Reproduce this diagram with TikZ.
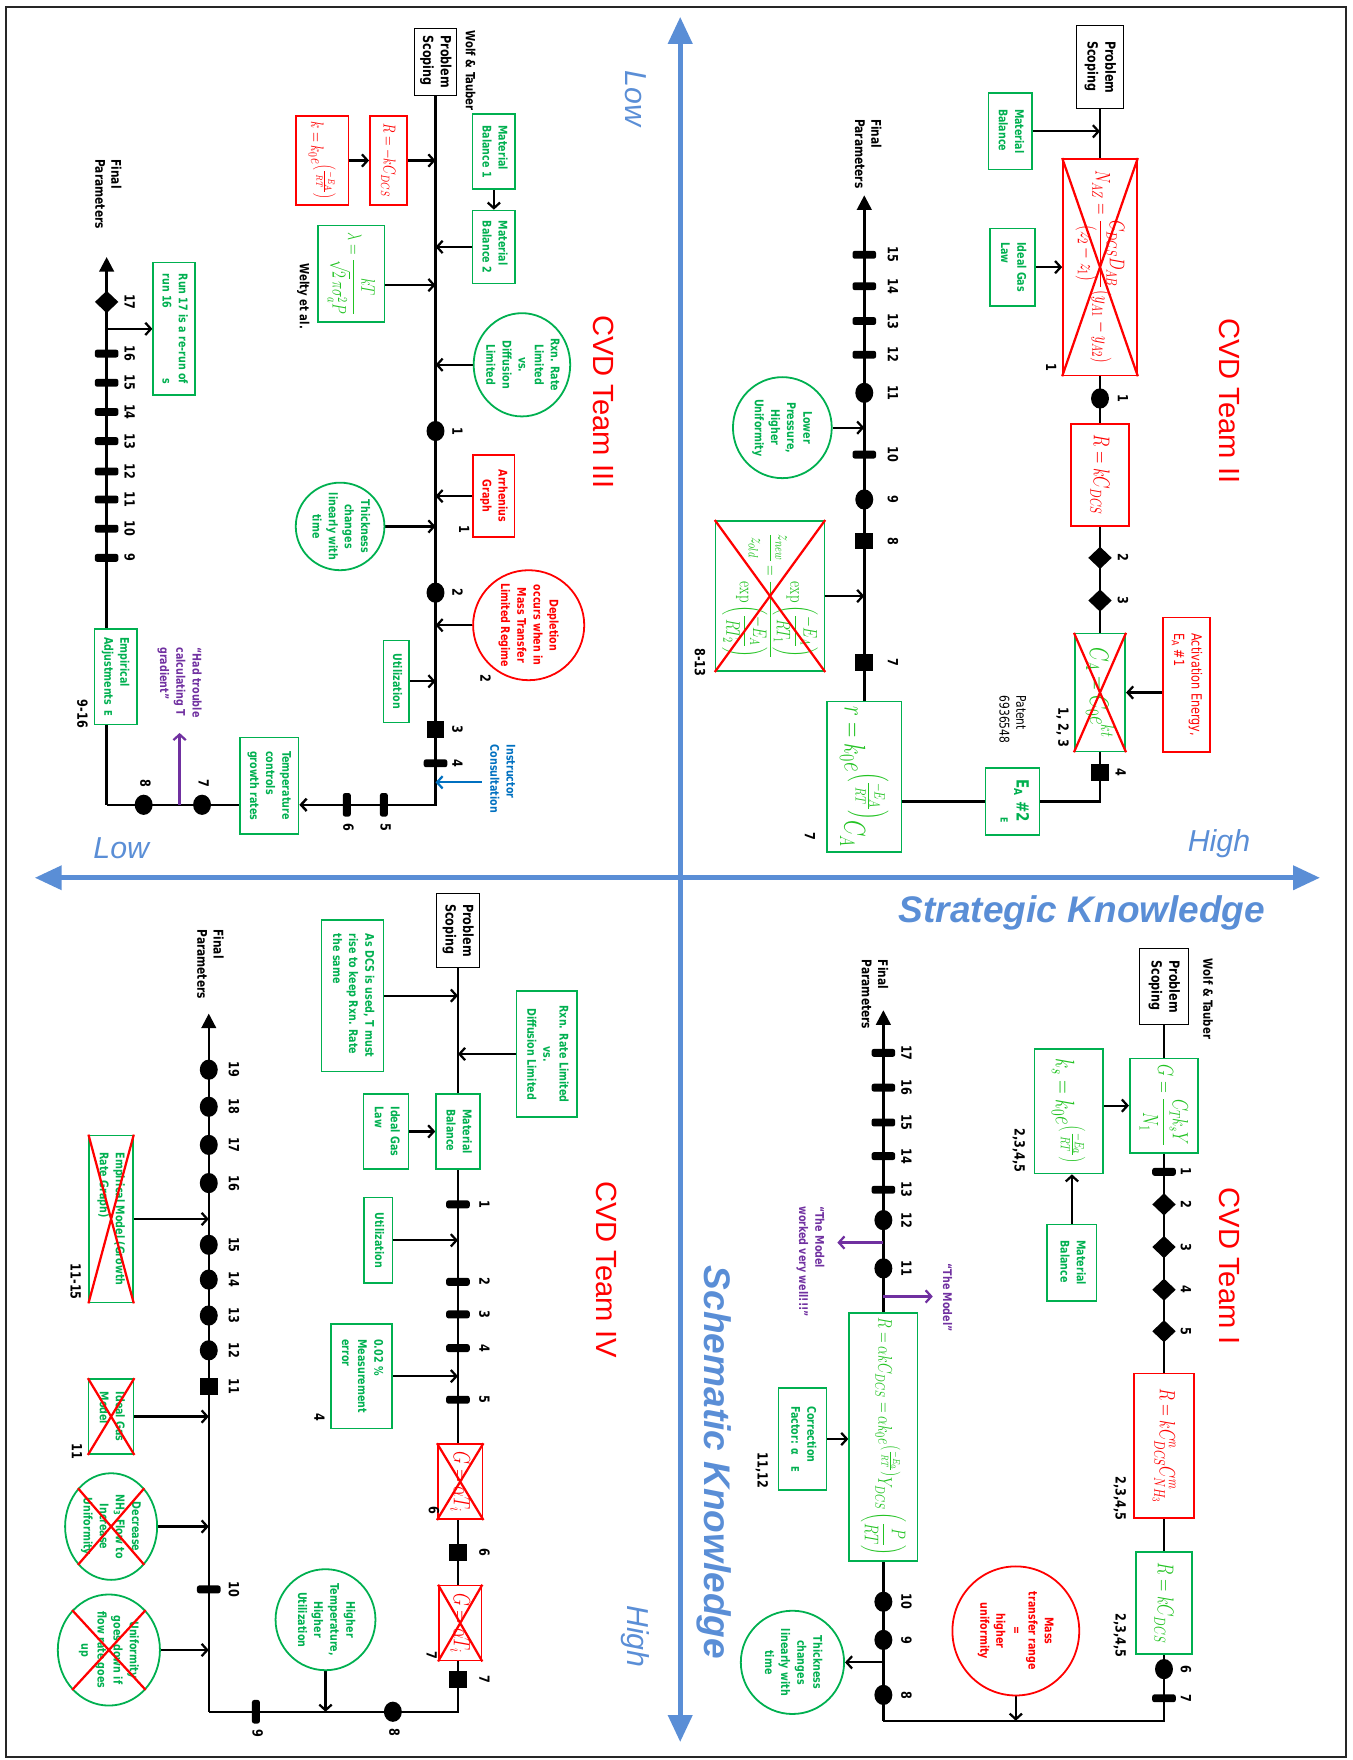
\RequirePackage{fix-cm}
\documentclass[tikz,border=0pt]{standalone}
\usepackage{amsmath}
\usepackage{graphicx}
\usepackage[no-math]{fontspec}
\setmainfont{DejaVu Sans}
\newfontfamily\arialf{Liberation Sans}
\usetikzlibrary{arrows.meta,shapes.geometric}
\pgfdeclarelayer{bg}
\pgfsetlayers{bg,main}
\definecolor{grn}{HTML}{00B050}
\definecolor{fgrn}{HTML}{22C322}
\definecolor{purp}{HTML}{7030A0}
\definecolor{axc}{HTML}{5A8ED6}
\definecolor{ibl}{HTML}{0070C0}
\newcommand{\rtx}[2][l]{\rotatebox{-90}{\scalebox{1}[1.25]{\begin{tabular}{@{}#1@{}}#2\end{tabular}}}}
\newcommand{\rfm}[1]{\rotatebox{-90}{\scalebox{1}[1.4]{$\displaystyle #1$}}}
\newcounter{lbc}
\newcommand{\lbl}[3]{\stepcounter{lbc}\node[num] (lb\arabic{lbc}) at (#1,#2) {\rtx{#3}};}
\tikzset{
  sm/.style={font=\bfseries\fontsize{8.5}{11.5}\selectfont},
  fs/.style={font=\fontsize{#1}{#1}\selectfont},
  bx/.style={draw, line width=1.4pt, inner sep=0pt, fill=white, sm},
  gbx/.style={bx, draw=grn, text=grn},
  rbx/.style={bx, draw=red, text=red},
  fgb/.style={bx, draw=grn, text=fgrn},
  kbx/.style={bx, draw=black, line width=0.8pt, text=black, font=\bfseries\fontsize{10}{12.5}\selectfont},
  gel/.style={ellipse, draw=grn, line width=1.6pt, inner sep=0pt, fill=white},
  rel/.style={gel, draw=red},
  gtx/.style={inner sep=0pt, text=grn, sm},
  rtt/.style={inner sep=0pt, text=red, sm},
  ptx/.style={inner sep=0pt, text=purp, sm},
  btx/.style={inner sep=0pt, text=ibl, sm},
  blk/.style={inner sep=0pt, text=black, font=\bfseries\fontsize{9}{11.5}\selectfont},
  num/.style={inner sep=0pt, text=black, font=\bfseries\fontsize{10}{12}\selectfont},
  spine/.style={line width=2.2pt, draw=black},
  arr/.style={line width=2pt, -{Straight Barb[length=5pt,width=11pt]}},
  parr/.style={arr, draw=purp},
  barr/.style={arr, draw=ibl},
  hd/.style={-{Triangle[length=13pt,width=13pt]}},
  cir/.style={ellipse, fill=black, minimum width=16pt, minimum height=18pt, inner sep=0pt},
  sqr/.style={rectangle, fill=black, minimum width=16pt, minimum height=15pt, inner sep=0pt},
  dmd/.style={diamond, fill=black, minimum width=21pt, minimum height=20pt, inner sep=0pt},
  tkv/.style={rectangle, rounded corners=2pt, fill=black, minimum width=21pt, minimum height=7pt, inner sep=0pt},
  tkh/.style={tkv, minimum width=7pt, minimum height=21pt},
  xr/.style={draw=red, line width=2pt},
  axln/.style={draw=axc, line width=4.5pt, {Triangle[length=24pt,width=21pt]}-{Triangle[length=24pt,width=21pt]}},
  team/.style={rotate=-90, text=red, font=\arialf\fontsize{26}{26}\selectfont},
  lvl/.style={text=axc, font=\arialf\itshape\fontsize{27}{27}\selectfont},
  big/.style={text=axc, font=\arialf\bfseries\itshape\fontsize{33}{33}\selectfont}
}
\begin{document}
\begin{tikzpicture}[x=1pt,y=-1pt]
\useasboundingbox (0,0) rectangle (1205,1568);
\draw[line width=1.6pt,black!85] (5,6) rectangle (1199,1565);
% ---------------- axes
\coordinate (axT) at (606,15);
\coordinate (axB) at (606,1552);
\coordinate (axL) at (31,782);
\coordinate (axR) at (1176,782);
\draw[axln] (axT) -- (axB);
\draw[axln] (axL) -- (axR);
\node[lvl,rotate=-90] (lowT) at (566,88) {Low};
\node[lvl,rotate=-90] (highB) at (566,1458) {High};
\node[lvl] (lowL) at (108,756) {Low};
\node[lvl] (highR) at (1086,752) {High};
\node[big] (strat) at (964,813) {Strategic Knowledge};
\node[big,rotate=-90] (schem) at (636,1303) {Schematic Knowledge};

% ================= TEAM II (top right)
\node[team] (team2) at (1095,357) {CVD Team II};
\node[kbx,minimum width=42pt,minimum height=74pt] (ps2) at (980,60) {\rtx{Problem\\Scoping}};
\node[gbx,minimum width=39pt,minimum height=68pt] (mb2) at (900,117) {\rtx{Material\\Balance}};
\node[gbx,minimum width=40pt,minimum height=69pt] (ig2) at (902,238) {\rtx{Ideal Gas\\Law}};
\node[rbx,fs=13.5,minimum width=66pt,minimum height=193pt] (naz) at (980,238) {\rfm{N_{AZ}=\frac{C_{DCS}D_{AB}}{\left(z_2-z_1\right)}\left(y_{A1}-y_{A2}\right)}};
\draw[xr] (naz.north west) -- (naz.south east) (naz.north east) -- (naz.south west);
\lbl{935}{327}{1}
\node[cir] (c2a) at (980,355) {}; \lbl{999}{355}{1}
\node[rbx,fs=14.5,minimum width=52pt,minimum height=91pt] (rk2) at (980,423) {\rfm{R=kC_{DCS}}};
\node[dmd] (d2b) at (980,497) {}; \lbl{999}{497}{2}
\node[dmd] (d2c) at (980,535) {}; \lbl{999}{535}{3}
\node[fgb,fs=17,minimum width=45pt,minimum height=105pt] (ca2) at (980,617) {\rfm{C_A=C_0e^{kt}}};
\draw[xr] (ca2.north west) -- (ca2.south east) (ca2.north east) -- (ca2.south west);
\lbl{946}{648}{1, 2, 3}
\node[rbx,font=\fontsize{10}{12.5}\selectfont,minimum width=42pt,minimum height=120pt] (ae2) at (1057,610) {\rtx{Activation Energy,\\E\textsubscript{A} \#1}};
\node[sqr] (s2d) at (980,688) {}; \lbl{997}{688}{4}
\coordinate (k2) at (980,714);
\node[gbx,minimum width=48pt,minimum height=60pt] (ea2) at (902,714) {\rtx{{\fontsize{12}{13}\selectfont E\textsubscript{A} \#2}\\\hspace*{34pt}{\fontsize{7}{8}\selectfont E}}};
\node[blk,font=\fontsize{9.5}{12}\selectfont] (pat2) at (901,641) {\rtx{Patent\\6936548}};
\node[fgb,fs=19,minimum width=66pt,minimum height=134pt] (r2) at (770,692) {\rfm{r=k_0e^{\left(\frac{-E_A}{RT}\right)}C_A}};
\lbl{720}{745}{7}
\node[sqr] (s2g) at (770,590) {}; \lbl{794}{590}{7}
\node[fgb,fs=12.5,minimum width=97pt,minimum height=134pt] (ex2) at (686,531) {\rfm{\frac{z_{new}}{z_{old}}=\frac{\exp\left(\dfrac{-E_A}{RT_1}\right)}{\exp\left(\dfrac{-E_A}{RT_2}\right)}}};
\draw[xr] (ex2.north west) -- (ex2.south east) (ex2.north east) -- (ex2.south west);
\lbl{622}{590}{8-13}
\node[sqr] (s2h) at (770,482) {}; \lbl{794}{482}{8}
\node[cir] (c2i) at (770,445) {}; \lbl{794}{445}{9}
\node[tkv] (t2j) at (770,405) {}; \lbl{794}{405}{10}
\node[gel,minimum width=88pt,minimum height=90pt] (lp2) at (697,381) {};
\node[gtx] (lp2t) at (697,381) {\rtx[c]{Lower\\Pressure,\\Higher\\Uniformity}};
\node[cir] (c2k) at (770,350) {}; \lbl{794}{350}{11}
\node[tkv] (t2l) at (770,316) {}; \lbl{794}{316}{12}
\node[tkv] (t2m) at (770,286) {}; \lbl{794}{286}{13}
\node[tkv] (t2n) at (770,255) {}; \lbl{794}{255}{14}
\node[tkv] (t2o) at (770,227) {}; \lbl{794}{227}{15}
\coordinate (f2) at (770,174);
\node[blk,font=\bfseries\fontsize{9.5}{11.5}\selectfont] (fp2) at (772,137) {\rtx{Final\\Parameters}};
\begin{pgfonlayer}{bg}
\draw[spine] (ps2) -- (k2) -- (r2.east |- k2);
\draw[spine,hd] (r2.north) -- (f2);
\draw[arr] (mb2.east) -- (mb2.east -| ps2);
\draw[arr] (ig2.east) -- (ig2.east -| naz.west);
\draw[arr] (ae2.west |- ca2) -- (ca2.east);
\draw[arr] (ex2.east) -- (ex2.east -| r2.north);
\draw[arr] (lp2.east) -- (lp2.east -| r2.north);
\end{pgfonlayer}

% ================= TEAM III (top left)
\node[team] (team3) at (538,358) {CVD Team III};
\node[kbx,minimum width=37pt,minimum height=60pt] (ps3) at (388,55) {\rtx{Problem\\Scoping}};
\node[blk] (wt3) at (418,63) {\rtx{Wolf \& Tauber}};
\node[gbx,minimum width=38pt,minimum height=67pt] (mb31) at (440,135) {\rtx{Material\\Balance 1}};
\node[gbx,minimum width=38pt,minimum height=65pt] (mb32) at (440,220) {\rtx{Material\\Balance 2}};
\node[rbx,fs=11,minimum width=33pt,minimum height=79pt] (rr3) at (346,143) {\rfm{R=-kC_{DCS}}};
\node[rbx,fs=11.5,minimum width=47pt,minimum height=79pt] (kk3) at (287,143) {\rfm{k=k_0e^{\left(\frac{-E_A}{RT}\right)}}};
\node[fgb,fs=12.5,minimum width=59pt,minimum height=86pt] (lm3) at (313,244) {\rfm{\lambda=\frac{kT}{\sqrt{2}\,\pi\sigma_a^2 P}}};
\coordinate (lma) at (343,254);
\node[blk] (we3) at (270,264) {\rtx{Welty et al.}};
\node[gel,minimum width=86pt,minimum height=92pt] (rx3) at (465,325) {};
\node[gtx] (rx3t) at (465,325) {\rtx[c]{Rxn. Rate\\Limited\\vs.\\Diffusion\\Limited}};
\node[cir] (c3a) at (388,384) {}; \lbl{406}{384}{1}
\node[rbx,minimum width=37pt,minimum height=73pt] (ar3) at (440,442) {\rtx[c]{Arrhenius\\Graph}};
\lbl{412}{472}{1}
\node[gel,minimum width=79pt,minimum height=78pt] (th3) at (303,469) {};
\node[gtx] (th3t) at (303,469) {\rtx[c]{Thickness\\changes\\linearly with\\time}};
\node[cir] (c3b) at (388,528) {}; \lbl{406}{528}{2}
\node[rel,minimum width=99pt,minimum height=98pt] (dp3) at (471,557) {};
\node[rtt] (dp3t) at (471,557) {\rtx[c]{Depletion\\occurs when in\\Mass Transfer\\Limited Regime}};
\lbl{431}{604}{2}
\node[gbx,minimum width=23pt,minimum height=73pt] (ut3) at (353,607) {\rtx{Utilization}};
\node[sqr] (s3c) at (388,650) {}; \lbl{406}{650}{3}
\node[tkv] (t3d) at (388,680) {}; \lbl{406}{680}{4}
\node[btx] (ic3t) at (447,694) {\rtx{Instructor\\Consultation}};
\coordinate (ic3) at (429,697);
\coordinate (k3a) at (388,717);
\node[tkh] (t3e) at (342,717) {}; \lbl{342}{737}{5}
\node[tkh] (t3f) at (309,717) {}; \lbl{309}{737}{6}
\node[gbx,minimum width=52pt,minimum height=86pt] (tp3) at (240,700) {\rtx{Temperature\\controls\\growth rates}};
\node[cir] (c3g) at (180,717) {}; \lbl{180}{698}{7}
\node[cir] (c3h) at (128,717) {}; \lbl{128}{698}{8}
\coordinate (k3b) at (95,717);
\coordinate (pa3) at (160,717);
\coordinate (pb3) at (160,653);
\node[ptx] (ht3) at (160,608) {\rtx{“Had trouble\\calculating T\\gradient”}};
\node[gbx,minimum width=38pt,minimum height=85pt] (em3) at (103,603) {\rtx{Empirical\\Adjustments\hspace{5pt}{\fontsize{7.5}{8}\selectfont E}}};
\lbl{72}{636}{9-16}
\node[tkv] (t3i) at (95,497) {}; \lbl{114}{497}{9}
\node[tkv] (t3j) at (95,471) {}; \lbl{114}{471}{10}
\node[tkv] (t3k) at (95,445) {}; \lbl{114}{445}{11}
\node[tkv] (t3l) at (95,420) {}; \lbl{114}{420}{12}
\node[tkv] (t3m) at (95,393) {}; \lbl{114}{393}{13}
\node[tkv] (t3n) at (95,367) {}; \lbl{114}{367}{14}
\node[tkv] (t3o) at (95,341) {}; \lbl{114}{341}{15}
\node[tkv] (t3p) at (95,315) {}; \lbl{114}{315}{16}
\node[dmd] (d3q) at (95,269) {}; \lbl{114}{269}{17}
\node[gbx,minimum width=37pt,minimum height=118pt] (rn3) at (155,293) {\rtx{Run 17 is a re-run of\\run 16\hfill s}};
\coordinate (f3) at (95,229);
\node[blk,font=\bfseries\fontsize{9.5}{11.5}\selectfont] (fp3) at (95,173) {\rtx{Final\\Parameters}};
\begin{pgfonlayer}{bg}
\draw[spine,-{Straight Barb[length=5pt,width=11pt]}] (ps3) -- (k3a) -- (tp3.east |- k3a);
\draw[spine] (tp3.west |- k3a) -- (k3b);
\draw[spine,hd] (k3b) -- (f3);
\draw[arr] (mb31) -- (mb32);
\draw[arr] (mb32.west) -- (mb32.west -| ps3);
\draw[arr] (kk3) -- (rr3);
\draw[arr] (rr3.east) -- (rr3.east -| ps3);
\draw[arr] (lma) -- (lma -| ps3);
\draw[arr] (rx3.west) -- (rx3.west -| ps3);
\draw[arr] (ar3.west) -- (ar3.west -| ps3);
\draw[arr] (th3.east) -- (th3.east -| ps3);
\draw[arr] (dp3.west) -- (dp3.west -| ps3);
\draw[arr] (ut3.east) -- (ut3.east -| ps3);
\draw[barr] (ic3) -- (ic3 -| ps3);
\draw[parr] (pa3) -- (pb3);
\draw[arr] (rn3.west -| k3b) -- (rn3.west);
\end{pgfonlayer}

% ================= TEAM IV (bottom left)
\node[team] (team4) at (540,1131) {CVD Team IV};
\node[kbx,minimum width=39pt,minimum height=66pt] (ps4) at (408,829) {\rtx{Problem\\Scoping}};
\node[gbx,minimum width=55pt,minimum height=135pt] (as4) at (314,887) {\rtx{As DCS is used, T must\\rise to keep Rxn. Rate\\the same}};
\node[gbx,minimum width=54pt,minimum height=112pt] (rx4) at (487,939) {\rtx[c]{Rxn. Rate Limited\\vs.\\Diffusion Limited}};
\node[gbx,minimum width=39pt,minimum height=67pt] (mb4) at (408,1008) {\rtx{Material\\Balance}};
\node[gbx,minimum width=40pt,minimum height=67pt] (ig4) at (344,1008) {\rtx{Ideal Gas\\Law}};
\node[tkv] (t4a) at (408,1073) {}; \lbl{430}{1073}{1}
\node[gbx,minimum width=25pt,minimum height=76pt] (ut4) at (337,1105) {\rtx{Utilization}};
\node[tkv] (t4b) at (408,1142) {}; \lbl{430}{1142}{2}
\node[tkv] (t4c) at (408,1171) {}; \lbl{430}{1171}{3}
\node[tkv] (t4d) at (408,1201) {}; \lbl{430}{1201}{4}
\node[gbx,minimum width=54pt,minimum height=93pt] (me4) at (322,1226) {\rtx{0.02 \%\\Measurement\\error}};
\lbl{283}{1263}{4}
\node[tkv] (t4e) at (408,1247) {}; \lbl{430}{1247}{5}
\node[rbx,fs=15,minimum width=40pt,minimum height=67pt] (ga4) at (410,1320) {\rfm{G=\alpha T_i}};
\draw[xr] (ga4.north west) -- (ga4.south east) (ga4.north east) -- (ga4.south west);
\lbl{385}{1346}{6}
\node[sqr] (s4f) at (408,1383) {}; \lbl{430}{1383}{6}
\node[rbx,fs=15,minimum width=38pt,minimum height=67pt] (gb4) at (410,1446) {\rfm{G=\alpha T_i}};
\draw[xr] (gb4.north west) -- (gb4.south east) (gb4.north east) -- (gb4.south west);
\lbl{383}{1475}{7}
\node[sqr] (s4g) at (408,1496) {}; \lbl{430}{1496}{7}
\coordinate (k4a) at (408,1525);
\node[cir] (c4h) at (350,1525) {}; \lbl{350}{1543}{8}
\node[gel,minimum width=89pt,minimum height=90pt] (ht4) at (290,1443) {};
\node[gtx] (ht4t) at (290,1443) {\rtx[c]{Higher\\Temperature,\\Higher\\Utilization}};
\node[tkh] (t4i) at (228,1525) {}; \lbl{228}{1544}{9}
\coordinate (k4b) at (186,1525);
\node[tkv] (t4j) at (186,1416) {}; \lbl{207}{1416}{10}
\node[gel,minimum width=91pt,minimum height=99pt] (un4) at (97,1470) {};
\node[gtx] (un4t) at (97,1470) {\rtx[c]{Uniformity\\goes down if\\flow rate goes\\up}};
\draw[xr] (un4.north west) -- (un4.south east) (un4.north east) -- (un4.south west);
\node[gel,minimum width=82pt,minimum height=95pt] (dn4) at (99,1360) {};
\node[gtx] (dn4t) at (99,1360) {\rtx[c]{Decrease\\NH\textsubscript{3} Flow to\\Increase\\Uniformity}};
\draw[xr] (dn4.north west) -- (dn4.south east) (dn4.north east) -- (dn4.south west);
\node[gbx,minimum width=40pt,minimum height=67pt] (igm4) at (99,1262) {\rtx{Ideal Gas\\Model}};
\draw[xr] (igm4.north west) -- (igm4.south east) (igm4.north east) -- (igm4.south west);
\lbl{67}{1293}{11}
\node[sqr] (s4k) at (186,1235) {}; \lbl{207}{1235}{11}
\node[cir] (c4l) at (186,1203) {}; \lbl{207}{1203}{12}
\node[cir] (c4m) at (186,1172) {}; \lbl{207}{1172}{13}
\node[cir] (c4n) at (186,1140) {}; \lbl{207}{1140}{14}
\node[cir] (c4o) at (186,1109) {}; \lbl{207}{1109}{15}
\node[cir] (c4p) at (186,1054) {}; \lbl{207}{1054}{16}
\node[cir] (c4q) at (186,1020) {}; \lbl{207}{1020}{17}
\node[cir] (c4r) at (186,986) {}; \lbl{207}{986}{18}
\node[cir] (c4s) at (186,953) {}; \lbl{207}{953}{19}
\node[gbx,minimum width=39pt,minimum height=149pt] (emm4) at (99,1086) {\rtx{Empirical Model (Growth\\Rate Graph)}};
\draw[xr] (emm4.north west) -- (emm4.south east) (emm4.north east) -- (emm4.south west);
\lbl{66}{1142}{11-15}
\coordinate (f4) at (186,903);
\node[blk,font=\bfseries\fontsize{9.5}{11.5}\selectfont] (fp4) at (186,859) {\rtx{Final\\Parameters}};
\begin{pgfonlayer}{bg}
\draw[spine] (ps4) -- (k4a) -- (k4b);
\draw[spine,hd] (k4b) -- (f4);
\draw[arr] (as4.east) -- (as4.east -| ps4);
\draw[arr] (rx4.west) -- (rx4.west -| ps4);
\draw[arr] (ig4.east) -- (mb4.west);
\draw[arr] (ut4.east) -- (ut4.east -| ps4);
\draw[arr] (me4.east) -- (me4.east -| ps4);
\draw[arr] (ht4.south) -- (ht4.south |- k4a);
\draw[arr] (un4.east) -- (un4.east -| k4b);
\draw[arr] (dn4.east) -- (dn4.east -| k4b);
\draw[arr] (igm4.east) -- (igm4.east -| k4b);
\draw[arr] (emm4.east) -- (emm4.east -| k4b);
\end{pgfonlayer}

% ================= TEAM I (bottom right)
\node[team] (team1) at (1095,1128) {CVD Team I};
\node[blk] (wt1) at (1075,890) {\rtx{Wolf \& Tauber}};
\node[kbx,minimum width=43pt,minimum height=68pt] (ps1) at (1037,879) {\rtx{Problem\\Scoping}};
\node[fgb,fs=14,minimum width=61pt,minimum height=84pt] (gg1) at (1037,985) {\rfm{G=\frac{C_Tk_sY}{N_1}}};
\node[fgb,fs=17,minimum width=61pt,minimum height=111pt] (ks1) at (952,990) {\rfm{k_s=k_0e^{\left(\frac{-E_a}{RT}\right)}}};
\lbl{907}{1025}{2,3,4,5}
\node[gbx,minimum width=44pt,minimum height=68pt] (mb1) at (955,1125) {\rtx{Material\\Balance}};
\node[tkv] (t1a) at (1037,1044) {}; \lbl{1055}{1044}{1}
\node[dmd] (d1b) at (1037,1073) {}; \lbl{1055}{1073}{2}
\node[dmd] (d1c) at (1037,1111) {}; \lbl{1055}{1111}{3}
\node[dmd] (d1d) at (1037,1149) {}; \lbl{1055}{1149}{4}
\node[dmd] (d1e) at (1037,1186) {}; \lbl{1055}{1186}{5}
\node[rbx,fs=14,minimum width=53pt,minimum height=129pt] (rn1) at (1037,1288) {\rfm{R=kC^{n}_{DCS}C^{m}_{NH_3}}};
\lbl{997}{1335}{2,3,4,5}
\node[fgb,fs=14.5,minimum width=50pt,minimum height=91pt] (rg1) at (1037,1428) {\rfm{R=kC_{DCS}}};
\lbl{997}{1457}{2,3,4,5}
\node[cir] (c1f) at (1037,1487) {}; \lbl{1055}{1487}{6}
\node[tkv] (t1g) at (1037,1513) {}; \lbl{1055}{1513}{7}
\coordinate (k1a) at (1037,1533);
\coordinate (k1b) at (787,1533);
\node[rel,minimum width=113pt,minimum height=115pt] (ms1) at (905,1453) {};
\node[rtt] (ms1t) at (905,1453) {\rtx[c]{Mass\\transfer range\\=\\higher\\uniformity}};
\node[cir] (c1h) at (787,1510) {}; \lbl{806}{1510}{8}
\node[cir] (c1i) at (787,1461) {}; \lbl{806}{1461}{9}
\node[cir] (c1j) at (787,1427) {}; \lbl{806}{1427}{10}
\node[gel,minimum width=92pt,minimum height=92pt] (th1) at (706,1481) {};
\node[gtx] (th1t) at (706,1481) {\rtx[c]{Thickness\\changes\\linearly with\\time}};
\node[fgb,fs=12.6,minimum width=61pt,minimum height=221pt] (ra1) at (787,1280) {\rfm{R=\alpha kC_{DCS}=\alpha k_0e^{\left(\frac{-E_a}{RT}\right)}Y_{DCS}\left(\frac{P}{RT}\right)}};
\node[gbx,minimum width=43pt,minimum height=91pt] (cf1) at (715,1282) {\rtx{Correction\\Factor: α\hspace{10pt}{\fontsize{7.5}{8}\selectfont E}}};
\lbl{678}{1310}{11,12}
\coordinate (pa1) at (787,1155);
\coordinate (pb1) at (831,1155);
\node[ptx] (tm1) at (843,1156) {\rtx{“The Model”}};
\node[cir] (c1k) at (787,1130) {}; \lbl{806}{1130}{11}
\coordinate (pc1) at (787,1107);
\coordinate (pd1) at (746,1107);
\node[ptx] (tw1) at (722,1124) {\rtx{“The Model\\worked very well!!!”}};
\node[cir] (c1l) at (787,1087) {}; \lbl{806}{1087}{12}
\node[tkv] (t1m) at (787,1060) {}; \lbl{806}{1060}{13}
\node[tkv] (t1n) at (787,1030) {}; \lbl{806}{1030}{14}
\node[tkv] (t1o) at (787,1000) {}; \lbl{806}{1000}{15}
\node[tkv] (t1p) at (787,969) {}; \lbl{806}{969}{16}
\node[tkv] (t1q) at (787,938) {}; \lbl{806}{938}{17}
\coordinate (f1) at (787,900);
\node[blk,font=\bfseries\fontsize{9.5}{11.5}\selectfont] (fp1) at (778,886) {\rtx{Final\\Parameters}};
\begin{pgfonlayer}{bg}
\draw[spine] (ps1) -- (k1a) -- (k1b);
\draw[spine,hd] (k1b) -- (f1);
\draw[arr] (ks1.east |- gg1) -- (gg1.west);
\draw[arr] (mb1.north) -- (mb1.north |- ks1.south);
\draw[arr] (ms1.south) -- (ms1.south |- k1a);
\draw[arr] (th1.east -| k1b) -- (th1.east);
\draw[arr] (cf1.east) -- (cf1.east -| ra1.west);
\draw[parr] (pa1) -- (pb1);
\draw[parr] (pc1) -- (pd1);
\end{pgfonlayer}
\end{tikzpicture}
\end{document}
